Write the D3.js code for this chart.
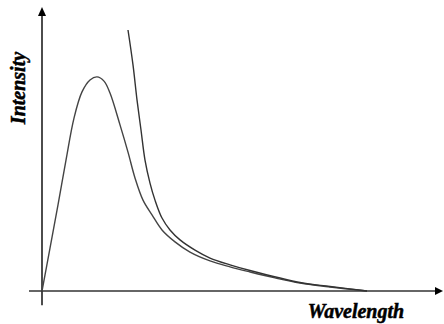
<!DOCTYPE html>
<html>
<head>
<meta charset="utf-8">
<script src="https://cdn.jsdelivr.net/npm/d3@7"></script>
<style>
  body { margin: 0; background: #fff; }
  svg { display: block; }
</style>
</head>
<body>
<div id="chart"></div>
<script>
// data (arbitrary units)
const emWavelength = [0, 2, 4, 6, 8, 10, 12, 13.75, 15.5, 17, 19.5, 21.5, 23.25, 25.25, 27.5, 30, 33.25, 37, 42, 47, 52, 58.25, 64.5, 72, 81.25];
const emIntensity  = [0, 15.1, 30.3, 46.1, 60.9, 70.1, 74.3, 75.4, 73.9, 69.7, 58.5, 48.9, 39.8, 32.0, 26.8, 21.5, 17.3, 13.7, 10.6, 8.5, 6.7, 4.6, 2.8, 1.4, 0];

const tailWavelength = [21.5, 22.75, 23.75, 24.75, 25.75, 27, 28.25, 30, 32, 34.5, 38.25, 42, 47, 52, 64.5, 72, 81.25];
const tailIntensity  = [91.9, 79.6, 67.3, 56.7, 46.1, 38.0, 32.0, 25.7, 21.5, 18.0, 14.4, 11.6, 9.2, 7.2, 3.0, 1.6, 0];

const xLabel = "Wavelength";
const yLabel = "Intensity";

// layout
const width = 444, height = 324;

const svg = d3.select("#chart")
  .append("svg")
  .attr("width", width)
  .attr("height", height);

const x = d3.scaleLinear().domain([0, 100]).range([42, 442]);
const y = d3.scaleLinear().domain([0, 100]).range([291, 7]);

const line = d3.line()
  .x(function(d){ return x(d[0]); })
  .y(function(d){ return y(d[1]); })
  .curve(d3.curveCatmullRom.alpha(0.5));

const series1 = d3.zip(emWavelength, emIntensity);
const series2 = d3.zip(tailWavelength, tailIntensity);

// axes with arrows
svg.append("line")
  .attr("x1", x(0)).attr("x2", x(0))
  .attr("y1", y(-5)).attr("y2", y(97))
  .attr("stroke", "#000").attr("stroke-width", 1.4);

svg.append("path")
  .attr("d", "M" + x(0) + "," + y(100) + " l-4,9 l8,0 z")
  .attr("fill", "#000");

svg.append("line")
  .attr("x1", x(-3.25)).attr("x2", x(99))
  .attr("y1", y(0)).attr("y2", y(0))
  .attr("stroke", "#333").attr("stroke-width", 1.4);

svg.append("path")
  .attr("d", "M" + (x(100) + 1) + "," + y(0) + " l-8,-4 l0,8 z")
  .attr("fill", "#000");

// curves
svg.append("path")
  .datum(series1)
  .attr("d", line)
  .attr("fill", "none")
  .attr("stroke", "#444")
  .attr("stroke-width", 1.4);

svg.append("path")
  .datum(series2)
  .attr("d", line)
  .attr("fill", "none")
  .attr("stroke", "#333")
  .attr("stroke-width", 1.4);

// labels (thin stroke to get the heavy bold look)
const labelFont = "'Liberation Serif', 'Times New Roman', Times, serif";

svg.append("text")
  .attr("x", 356)
  .attr("y", 318)
  .attr("text-anchor", "middle")
  .attr("font-family", labelFont)
  .attr("font-weight", "bold")
  .attr("font-style", "italic")
  .attr("font-size", 20)
  .attr("stroke", "#000")
  .attr("stroke-width", 0.5)
  .text(xLabel);

svg.append("text")
  .attr("transform", "translate(25,88) rotate(-90)")
  .attr("text-anchor", "middle")
  .attr("font-family", labelFont)
  .attr("font-weight", "bold")
  .attr("font-style", "italic")
  .attr("font-size", 20)
  .attr("stroke", "#000")
  .attr("stroke-width", 0.5)
  .text(yLabel);
</script>
</body>
</html>
